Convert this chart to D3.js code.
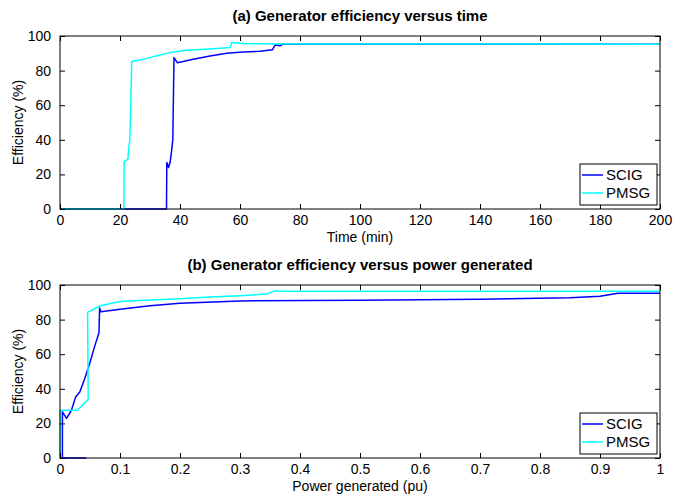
<!DOCTYPE html>
<html><head><meta charset="utf-8">
<script src="https://cdn.jsdelivr.net/npm/d3@7"></script>
<style>body{margin:0;background:#fff}svg{display:block}text{font-family:"Liberation Sans",Arial,Helvetica,sans-serif}</style>
</head><body>
<script>
// ---- data: (a) efficiency vs time ----
const timeSCIG = [0,35.5,35.6,36.2,36.7,37.2,37.6,38.0,39.1,41,44.4,50,55.6,61,66.7,70.8,71.7,73.5,74.2,80,100,150,200];
const effSCIG  = [0,0,26.9,24.0,27,33.7,40,87.5,84.6,85.2,86.5,88.5,90,90.8,91.2,92,94.8,94.4,95.2,95.3,95.2,95.2,95.2];
const timePMSG = [0,21.3,21.4,22.6,23.0,23.3,23.9,27.8,32,36.7,42.2,50,56.7,57.2,62,80,200];
const effPMSG  = [0,0,27.5,28.5,36.5,40,85.2,86.5,88.5,90.4,91.7,92.5,93.3,96.2,95.5,95.4,95.3];
// ---- data: (b) efficiency vs power generated ----
const powSCIG = [0.044,0.002,0.004,0.004,0.011,0.019,0.026,0.033,0.041,0.05,0.058,0.065,0.066,0.068,0.1,0.15,0.2,0.3,0.5,0.7,0.85,0.9,0.93,1.0];
const effSCIGb= [0,0,0,26.7,22.9,27.6,35.2,38.1,45.7,55.2,64.8,72.4,86.7,84.5,86,88,89.5,90.8,91.2,91.8,92.6,93.5,95.2,95.3];
const powPMSG = [0,0,0.029,0.047,0.046,0.067,0.1,0.15,0.2,0.25,0.3,0.344,0.358,0.378,1.0];
const effPMSGb= [0,27.6,27.6,33.9,84.2,88,90.4,91.4,92,93,93.8,94.8,96.6,96.4,96.4];
const ticksTime = [0,20,40,60,80,100,120,140,160,180,200];
const ticksPow = [0,0.1,0.2,0.3,0.4,0.5,0.6,0.7,0.8,0.9,1];
const ticksEff = [0,20,40,60,80,100];
const seriesNames = ["SCIG","PMSG"];
const colors = ["#0000ff","#00ffff"];
const titles = ["(a) Generator efficiency versus time","(b) Generator efficiency versus power generated"];
const xLabels = ["Time (min)","Power generated (pu)"];

const W=675,H=498;
const svg=d3.select("body").append("svg").attr("width",W).attr("height",H);
svg.append("rect").attr("width",W).attr("height",H).attr("fill","#fff");

function panel(top,bottom,xDomain,xTicks,xFmt,series,idx){
  const x=d3.scaleLinear().domain(xDomain).range([60,660]);
  const y=d3.scaleLinear().domain([0,100]).range([bottom,top]);
  const g=svg.append("g");
  const tl=5;
  const line=d3.line().x(d=>x(d[0])).y(d=>y(d[1]));
  series.forEach((s,i)=>{
    g.append("path").datum(d3.zip(s[0],s[1])).attr("d",line)
     .attr("fill","none").attr("stroke",colors[i]).attr("stroke-width",1.5).attr("stroke-linejoin","round");
  });
  const ax=(gen,tr)=>g.append("g").attr("transform",tr).call(gen)
     .call(a=>a.select(".domain").remove())
     .call(a=>a.selectAll("line").attr("stroke","#000"))
     .call(a=>a.selectAll("text").attr("font-size",14).attr("fill","#000"));
  ax(d3.axisBottom(x).tickValues(xTicks).tickFormat(xFmt).tickSizeInner(-tl).tickPadding(6),`translate(0,${bottom})`);
  ax(d3.axisTop(x).tickValues(xTicks).tickFormat("").tickSizeInner(-tl),`translate(0,${top})`);
  ax(d3.axisLeft(y).tickValues(ticksEff).tickFormat(d3.format("d")).tickSizeInner(-tl).tickPadding(9),`translate(60,0)`);
  ax(d3.axisRight(y).tickValues(ticksEff).tickFormat("").tickSizeInner(-tl),`translate(660,0)`);
  g.append("rect").attr("x",60).attr("y",top).attr("width",600).attr("height",bottom-top)
   .attr("fill","none").attr("stroke","#000").attr("stroke-width",1);
  g.append("text").attr("x",360).attr("y",top-15).attr("text-anchor","middle")
   .attr("font-size",15).attr("font-weight","bold").text(titles[idx]);
  g.append("text").attr("x",360).attr("y",bottom+33).attr("text-anchor","middle")
   .attr("font-size",14).text(xLabels[idx]);
  g.append("text").attr("transform",`translate(23,${(top+bottom)/2}) rotate(-90)`).attr("text-anchor","middle")
   .attr("font-size",14).text("Efficiency (%)");
  const lx=580, ly=bottom-45, lw=77, lh=41;
  const lg=g.append("g");
  lg.append("rect").attr("x",lx).attr("y",ly).attr("width",lw).attr("height",lh).attr("fill","#fff").attr("stroke","#000");
  seriesNames.forEach((n,i)=>{
    const yy=ly+11+i*18;
    lg.append("line").attr("x1",lx+2).attr("x2",lx+23).attr("y1",yy).attr("y2",yy).attr("stroke",colors[i]).attr("stroke-width",1.5);
    lg.append("text").attr("x",lx+26).attr("y",yy).attr("dy","0.35em").attr("font-size",15).text(n);
  });
}
panel(36,209,[0,200],ticksTime,d3.format("d"),[[timeSCIG,effSCIG],[timePMSG,effPMSG]],0);
panel(285,458,[0,1],ticksPow,d=>d===0?"0":d===1?"1":d3.format(".1f")(d),[[powSCIG,effSCIGb],[powPMSG,effPMSGb]],1);
</script>
</body></html>
